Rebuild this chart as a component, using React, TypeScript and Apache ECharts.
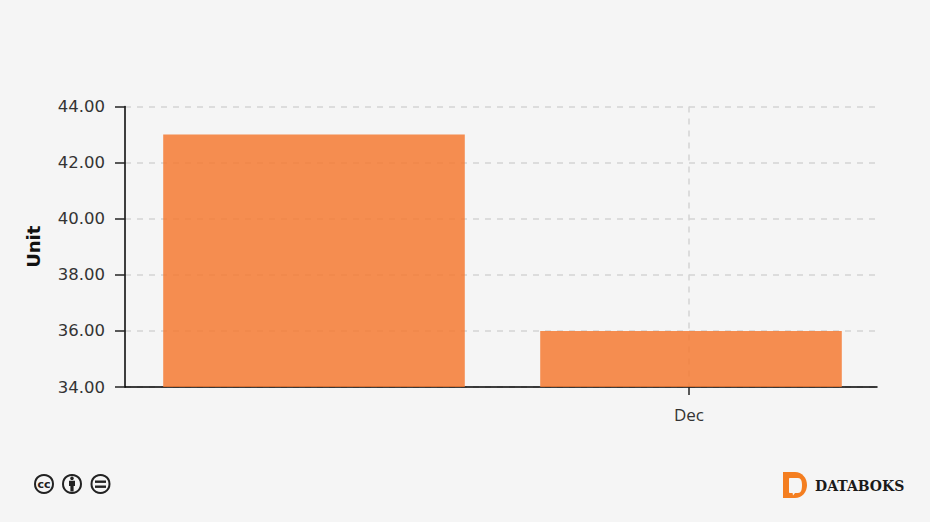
import React, { useEffect, useRef } from "react";
import * as echarts from "echarts";

const categories = ["", "Dec"];
const values = [43, 36];
const yAxisName = "Unit";
const brand = "DATABOKS";

echarts.graphic.registerShape(
  "dbLogoOuter",
  echarts.graphic.extendPath("M0 0H12C19 0 24 6 24 13C24 20 19 26 12 26H0Z", {})
);
echarts.graphic.registerShape(
  "dbLogoInner",
  echarts.graphic.extendPath(
    "M1 0H9C12 0 13 3 13 7C13 12 12 15 9 15H6L4 17.5L3.6 15H1C0.4 15 0 14.6 0 14V1C0 0.4 0.4 0 1 0Z",
    {}
  )
);
echarts.graphic.registerShape(
  "ccPerson",
  echarts.graphic.extendPath(
    "M5 0A1.8 1.8 0 1 1 4.99 0ZM2 4.2H8V9.4H6.6V15H3.4V9.4H2Z",
    {}
  )
);

export default function App() {
  const ref = useRef<HTMLDivElement>(null);
  useEffect(() => {
    document.body.style.margin = "0";
    document.body.style.background = "#f5f5f5";
    const chart = echarts.init(ref.current!, null, { renderer: "svg" });
    const ring = (cx: number) => ({
      type: "circle",
      shape: { cx, cy: 484, r: 9 },
      style: { fill: "#f5f5f5", stroke: "#222", lineWidth: 2 },
    });
    const dash = { color: "#d4d4d4", type: [6, 6], width: 1.5 };
    chart.setOption({
      animation: false,
      backgroundColor: "#f5f5f5",
      grid: [
        { left: 125, right: 53, top: 106.5, height: 280.5 },
        { left: 125.5, width: 754, top: 106.5, height: 280.5 },
      ],
      xAxis: [
        {
          type: "category",
          gridIndex: 0,
          data: categories,
          axisLine: { lineStyle: { color: "#000", width: 1.5 } },
          axisTick: {
            show: true,
            alignWithLabel: true,
            length: 8,
            interval: (i: number) => i === 1,
            lineStyle: { color: "#222", width: 1.5 },
          },
          axisLabel: {
            interval: 0,
            margin: 19,
            fontFamily: "Open Sans",
            fontSize: 17,
            color: "#333",
          },
          splitLine: {
            show: true,
            alignWithLabel: true,
            interval: (i: number) => i === 1,
            lineStyle: dash,
          },
        },
        { type: "category", gridIndex: 1, data: categories, show: false },
      ],
      yAxis: [
        {
          type: "value",
          gridIndex: 0,
          min: 34,
          max: 44,
          interval: 2,
          name: yAxisName,
          nameLocation: "middle",
          nameGap: 83,
          nameTextStyle: {
            fontFamily: "DejaVu Sans",
            fontWeight: "bold",
            fontSize: 18,
            color: "#111",
          },
          axisLine: { show: true, lineStyle: { color: "#000", width: 1.5 } },
          axisTick: { show: true, length: 10, lineStyle: { color: "#222", width: 1.5 } },
          axisLabel: {
            margin: 20,
            fontFamily: "DejaVu Sans",
            fontSize: 16.5,
            color: "#333",
            formatter: (v: number) => v.toFixed(2),
          },
          splitLine: { show: true, lineStyle: dash },
        },
        { type: "value", gridIndex: 1, min: 34, max: 44, interval: 2, show: false },
      ],
      series: [
        {
          type: "bar",
          xAxisIndex: 1,
          yAxisIndex: 1,
          data: values,
          barWidth: "80%",
          itemStyle: { color: "#F47A33", opacity: 0.85 },
        },
      ],
      graphic: [
        ring(44),
        { type: "text", x: 44, y: 484, style: { text: "cc", font: "bold 11px 'DejaVu Sans'", fill: "#222", align: "center", verticalAlign: "middle" } },
        ring(72),
        { type: "ccPerson", x: 67, y: 476.5, style: { fill: "#222" } },
        ring(100.5),
        { type: "rect", shape: { x: 95, y: 480.5, width: 11, height: 2.4 }, style: { fill: "#222" } },
        { type: "rect", shape: { x: 95, y: 485.5, width: 11, height: 2.4 }, style: { fill: "#222" } },
        { type: "dbLogoOuter", x: 783, y: 472, style: { fill: "#F47E20" } },
        { type: "dbLogoInner", x: 789, y: 478, style: { fill: "#f5f5f5" } },
        {
          type: "text",
          x: 815,
          y: 486,
          style: { text: brand, font: "bold 14px 'DejaVu Serif'", fill: "#1a1a1a", align: "left", verticalAlign: "middle" },
        },
      ],
    });
    return () => chart.dispose();
  }, []);
  return <div ref={ref} style={{ width: 930, height: 522 }} />;
}
